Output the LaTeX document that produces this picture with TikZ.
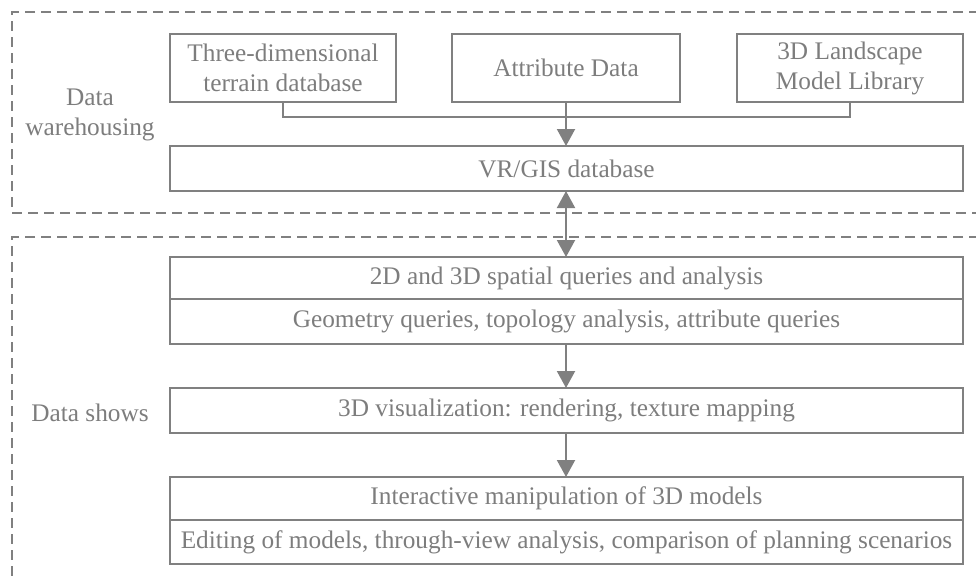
\documentclass[tikz,border=0pt]{standalone}
\usepackage{fontspec}
\setmainfont{Liberation Serif}
\usetikzlibrary{arrows.meta}
\definecolor{lgray}{RGB}{128,128,128}
\definecolor{tgray}{RGB}{125,125,125}
\tikzset{
  box/.style={draw=lgray, line width=1.6pt, rectangle, inner sep=0pt, outer sep=0pt,
    text=tgray, align=center, font=\fontsize{25.3}{30}\selectfont},
  lbl/.style={text=tgray, align=center, inner sep=0pt, font=\fontsize{25.3}{30}\selectfont},
  conn/.style={draw=lgray, line width=2pt},
  tip/.style={-{Triangle[width=18pt,length=17pt]}},
  frame/.style={draw=lgray, line width=1.6pt, dash pattern=on 10pt off 6pt}
}
\begin{document}
\begin{tikzpicture}[x=1pt,y=-1pt]
\useasboundingbox (0,0) rectangle (976,581);
% dashed frames
\draw[frame] (995,12) -- (12,12) -- (12,213) -- (995,213);
\draw[frame] (995,237) -- (12,237) -- (12,600);
% top boxes
\node[box, minimum width=226pt, minimum height=68pt] (three) at (283,68) {Three-dimensional\\terrain database};
\node[box, minimum width=228pt, minimum height=68pt] (attr) at (566,68) {Attribute Data};
\node[box, minimum width=226pt, minimum height=68pt] (land) at (850,68) {3D Landscape\\Model Library};
\node[box, minimum width=793pt, minimum height=45pt] (vr) at (566.5,168.5) {VR/GIS database};
% lower boxes
\node[box, minimum width=793pt, minimum height=42pt] (q1) at (566.5,278) {2D and 3D spatial queries and analysis};
\node[box, minimum width=793pt, minimum height=45pt] (q2) at (566.5,321.5) {Geometry queries, topology analysis, attribute queries};
\node[box, minimum width=793pt, minimum height=45pt] (vis) at (566.5,410.5) {3D visualization: rendering, texture mapping};
\node[box, minimum width=793pt, minimum height=43pt] (im1) at (566.5,498.5) {Interactive manipulation of 3D models};
\node[box, minimum width=793pt, minimum height=44pt] (im2) at (566.5,542) {Editing of models, through-view analysis, comparison of planning scenarios};
% labels
\node[lbl] (lw) at (90,115) {Data\\warehousing};
\node[lbl] (ls) at (90,413) {Data shows};
% connectors
\coordinate (mid) at (566,117);
\draw[conn] (three.south) |- (mid) -| (land.south);
\draw[conn, tip] (attr.south) -- (attr.south |- vr.north);
\draw[conn, {Triangle[width=18pt,length=17pt]}-{Triangle[width=18pt,length=17pt]}] (vr.south -| attr.south) -- (q1.north -| attr.south);
\draw[conn, tip] (q2.south -| attr.south) -- (vis.north -| attr.south);
\draw[conn, tip] (vis.south -| attr.south) -- (im1.north -| attr.south);
\end{tikzpicture}
\end{document}
